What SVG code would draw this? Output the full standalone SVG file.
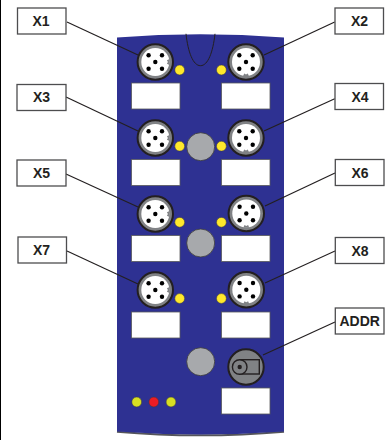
<svg xmlns="http://www.w3.org/2000/svg" xmlns:xlink="http://www.w3.org/1999/xlink" width="390" height="440" viewBox="0 0 390 440">
<style>
.callout{fill:#fff;stroke:#4d4d4f;stroke-width:1.3}
.t{font-family:"Liberation Sans",Arial,sans-serif;font-weight:700;font-size:14px;fill:#231f20;text-anchor:middle}
.lab{fill:#fff;stroke:#58595b;stroke-width:.8}
.led{fill:#ffe82c;stroke:#3a3a3a;stroke-width:.5}
.gray{fill:#a7a9ac;stroke:#3a3a3a;stroke-width:.8}
.lead{fill:none;stroke:#231f20;stroke-width:1.2}
.ring{fill:#808285;stroke:#231f20;stroke-width:2}
.pin{fill:#000}
</style>
<defs>
<g id="conn">
<circle class="ring" r="17.7"/>
<circle r="14" fill="#fff"/>
<path d="M14.2-3 L11.6-1.8 L12.6 0 L11.6 1.8 L14.2 3Z" fill="#808285"/>
<circle class="pin" cx="0" cy="0" r="2.2"/>
<circle class="pin" cx="-6.7" cy="-6.7" r="2.2"/>
<circle class="pin" cx="6.7" cy="-6.7" r="2.2"/>
<circle class="pin" cx="-6.7" cy="6.7" r="2.2"/>
<circle class="pin" cx="6.7" cy="6.7" r="2.2"/>
</g>
</defs>
<rect width="390" height="440" fill="#fff"/>
<rect width="1" height="440" fill="#000"/>
<g id="body">
<path d="M117 431.7Q200 439 284 431.7" fill="none" stroke="#55555a" stroke-width="2"/>
<path d="M117 37.5Q200 31 284 37.5V431.5Q200 437.5 117 431.5Z" fill="#2e3192"/>
<path d="M186 33.8C188 52 193 65.7 200.5 65.7S213 52 215 33.8" fill="none" stroke="#231f20" stroke-width="1"/>
<rect class="lab" x="131.5" y="83" width="48.5" height="26"/>
<rect class="lab" x="221.5" y="83" width="48.5" height="26"/>
<rect class="lab" x="131.5" y="159.5" width="48.5" height="26"/>
<rect class="lab" x="221.5" y="159.5" width="48.5" height="26"/>
<rect class="lab" x="131.5" y="235.5" width="48.5" height="26"/>
<rect class="lab" x="221.5" y="235.5" width="48.5" height="26"/>
<rect class="lab" x="131.5" y="312" width="48.5" height="26"/>
<rect class="lab" x="221.5" y="312" width="48.5" height="26"/>
<rect class="lab" x="221.5" y="388" width="48.5" height="26"/>
<circle class="gray" cx="200.7" cy="146.7" r="14"/>
<circle class="gray" cx="200.7" cy="243" r="14"/>
<circle class="gray" cx="200.7" cy="361.7" r="14"/>
<circle class="led" cx="179.7" cy="70" r="4.9"/>
<circle class="led" cx="221.4" cy="70" r="4.9"/>
<circle class="led" cx="179.7" cy="146.2" r="4.9"/>
<circle class="led" cx="221.4" cy="146.2" r="4.9"/>
<circle class="led" cx="179.7" cy="222.3" r="4.9"/>
<circle class="led" cx="221.4" cy="222.3" r="4.9"/>
<circle class="led" cx="179.7" cy="298.5" r="4.9"/>
<circle class="led" cx="221.4" cy="298.5" r="4.9"/>
<circle cx="136.7" cy="402" r="4.9" fill="#d7df23" stroke="#3a3a3a" stroke-width=".5"/>
<circle cx="153.8" cy="402" r="4.9" fill="#ed1c24" stroke="#3a3a3a" stroke-width=".5"/>
<circle cx="171" cy="402" r="4.9" fill="#d7df23" stroke="#3a3a3a" stroke-width=".5"/>
</g>
<g id="connectors">
<path class="lead" d="M67 22L138 55"/>
<path class="lead" d="M334.7 22L264 55"/>
<path class="lead" d="M66 97L138 131"/>
<path class="lead" d="M334.7 98.7L264 131"/>
<path class="lead" d="M66 174L138 207"/>
<path class="lead" d="M335 173L265 206"/>
<path class="lead" d="M67 251L138 284"/>
<path class="lead" d="M335 251L265 283"/>
<path class="lead" d="M335 322L263 355"/>
</g>
<g id="port-x1"><use xlink:href="#conn" href="#conn" transform="translate(155.3 62)"/></g>
<g id="port-x2"><use xlink:href="#conn" href="#conn" transform="translate(246 62) rotate(90)"/></g>
<g id="port-x3"><use xlink:href="#conn" href="#conn" transform="translate(155.3 138)"/></g>
<g id="port-x4"><use xlink:href="#conn" href="#conn" transform="translate(246 138) rotate(90)"/></g>
<g id="port-x5"><use xlink:href="#conn" href="#conn" transform="translate(155.3 214)"/></g>
<g id="port-x6"><use xlink:href="#conn" href="#conn" transform="translate(246.3 213.5) rotate(90)"/></g>
<g id="port-x7"><use xlink:href="#conn" href="#conn" transform="translate(155.3 290)"/></g>
<g id="port-x8"><use xlink:href="#conn" href="#conn" transform="translate(246.3 289.7) rotate(90)"/></g>
<g id="port-addr">
<circle class="ring" cx="246" cy="367" r="17.7"/>
<rect x="240" y="359.7" width="19.3" height="14.3" fill="#808285" stroke="#231f20" stroke-width="1.4"/>
<circle cx="239.7" cy="367" r="7.3" fill="#808285" stroke="#231f20" stroke-width="1.4"/>
<circle cx="239.7" cy="367" r="2.2" fill="#231f20"/>
</g>
<g id="x1"><rect class="callout" x="17.5" y="8" width="48.5" height="26"/><text class="t" x="41" y="25.5">X1</text></g>
<g id="x2"><rect class="callout" x="335" y="8" width="48.5" height="26"/><text class="t" x="359.5" y="26">X2</text></g>
<g id="x3"><rect class="callout" x="17" y="84.5" width="49" height="26"/><text class="t" x="41.5" y="101.5">X3</text></g>
<g id="x4"><rect class="callout" x="335" y="83.5" width="48.5" height="26"/><text class="t" x="360" y="101.5">X4</text></g>
<g id="x5"><rect class="callout" x="17" y="160" width="49" height="26"/><text class="t" x="41.5" y="177.5">X5</text></g>
<g id="x6"><rect class="callout" x="335.3" y="159.5" width="48.7" height="26"/><text class="t" x="360" y="177.5">X6</text></g>
<g id="x7"><rect class="callout" x="18" y="237" width="48.5" height="26"/><text class="t" x="41.5" y="254.5">X7</text></g>
<g id="x8"><rect class="callout" x="335.3" y="237.5" width="48.7" height="26"/><text class="t" x="360" y="255.5">X8</text></g>
<g id="addr"><rect class="callout" x="335.3" y="308" width="48.7" height="26"/><text class="t" x="359.7" y="325.5">ADDR</text></g>
</svg>
